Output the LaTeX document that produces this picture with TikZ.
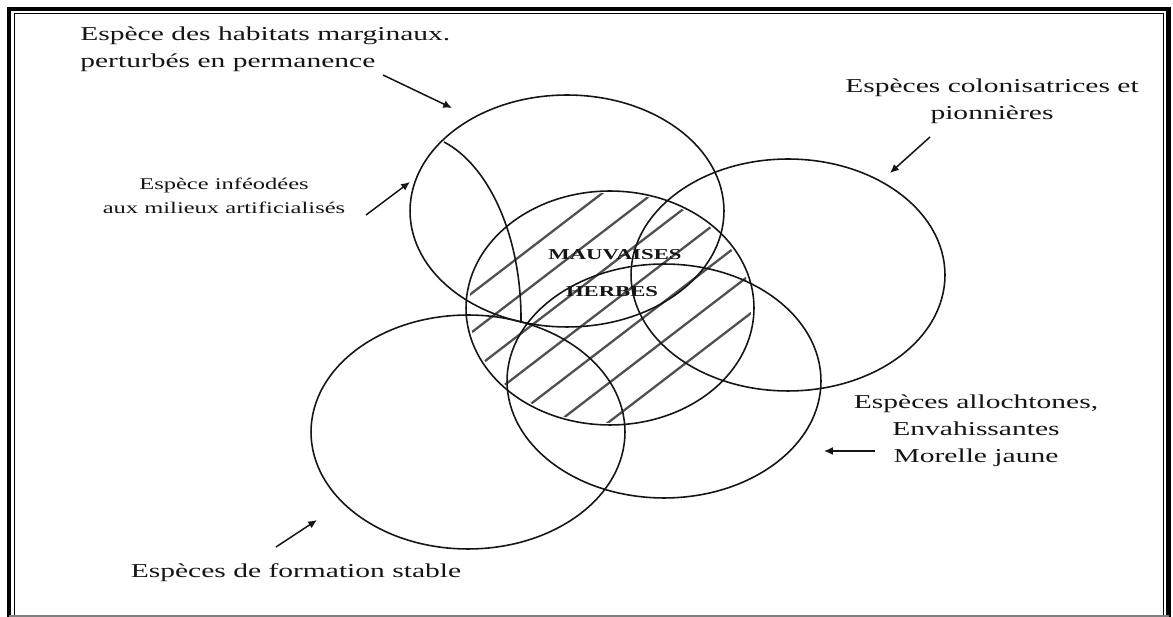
\documentclass[tikz,border=0pt]{standalone}
\usepackage{fontspec}
\setmainfont{Liberation Serif}[FakeStretch=1.5]
\usetikzlibrary{shapes.geometric,arrows.meta}
\definecolor{ink}{HTML}{151515}
\definecolor{hatch}{HTML}{505050}
\tikzset{
  ell/.style={draw=ink, line width=0.9pt, ellipse, inner sep=0pt},
  lab/.style={text=ink, inner sep=0pt, font=\fontsize{11.2}{15.5}\selectfont},
  smalllab/.style={text=ink, inner sep=0pt, font=\fontsize{9.3}{14}\selectfont},
  bigword/.style={text=ink, inner sep=0pt, font=\fontsize{8.6}{10}\selectfont\bfseries},
  arr/.style={draw=ink, line width=0.85pt, -{Latex[length=5pt,width=4.5pt]}},
  hline/.style={draw=hatch, line width=1.3pt}
}
\begin{document}
\begin{tikzpicture}[x=0.02cm,y=-0.02cm]
\useasboundingbox (0,0) rectangle (1173,617);
\fill[white] (0,0) rectangle (1173,617);
% frame
\draw[black, line width=2.4pt] (9,640) -- (9,9) -- (1168.5,9) -- (1168.5,640);
\draw[black, line width=0.7pt] (14.5,640) -- (14.5,13.5) -- (1163.5,13.5) -- (1163.5,640);
\draw[gray, line width=0.8pt] (9,616) -- (1168.5,616);

% hatching inside the central ellipse
\coordinate (cC) at (610,308);
\begin{scope}
  \clip (cC) ellipse [x radius=2.82cm, y radius=2.30cm];
  \foreach \k in {0,...,6}{
    \pgfmathsetmacro{\o}{-96+31*\k}
    \draw[hline] ({610+\o*0.61-240},{308+\o*0.79+184}) -- ({610+\o*0.61+240},{308+\o*0.79-184});
  }
\end{scope}

% ellipses
\node[ell, minimum width=6.28cm, minimum height=4.64cm] (A) at (567,211) {};
\node[ell, minimum width=6.28cm, minimum height=4.64cm] (B) at (788,275) {};
\node[ell, minimum width=5.76cm, minimum height=4.68cm] (C) at (cC) {};
\node[ell, minimum width=6.28cm, minimum height=4.68cm] (D) at (664,381) {};
\node[ell, minimum width=6.28cm, minimum height=4.68cm] (E) at (468,432) {};

% inner curve inside A
\coordinate (f1) at (444,142);
\coordinate (f2) at (521,323);
\draw[draw=ink, line width=0.9pt] (f1) .. controls (488,165) and (522,235) .. (f2);

% central words
\node[bigword] (mv) at (615,255) {MAUVAISES};
\node[bigword] (hb) at (612,292) {HERBES};

% labels
\node[lab, anchor=west, align=left] (l1) at (80,49) {Espèce des habitats marginaux.\\perturbés en permanence};
\node[smalllab, align=center] (l2) at (224,196) {Espèce inféodées\\aux milieux artificialisés};
\node[lab, align=center] (l3) at (992,101) {Espèces colonisatrices et\\pionnières};
\node[lab, align=center] (l4) at (976,431) {Espèces allochtones,\\Envahissantes\\Morelle jaune};
\node[lab] (l5) at (296,573) {Espèces de formation stable};

% arrows
\coordinate (a1s) at (383,75);  \coordinate (a1e) at (452,108);
\coordinate (a2s) at (366,215); \coordinate (a2e) at (410,182);
\coordinate (a3s) at (930,137); \coordinate (a3e) at (890,173);
\coordinate (a4s) at (875,451); \coordinate (a4e) at (824,451);
\coordinate (a5s) at (276,547); \coordinate (a5e) at (317,520);
\draw[arr] (a1s) -- (a1e);
\draw[arr] (a2s) -- (a2e);
\draw[arr] (a3s) -- (a3e);
\draw[arr] (a4s) -- (a4e);
\draw[arr] (a5s) -- (a5e);
\end{tikzpicture}
\end{document}
